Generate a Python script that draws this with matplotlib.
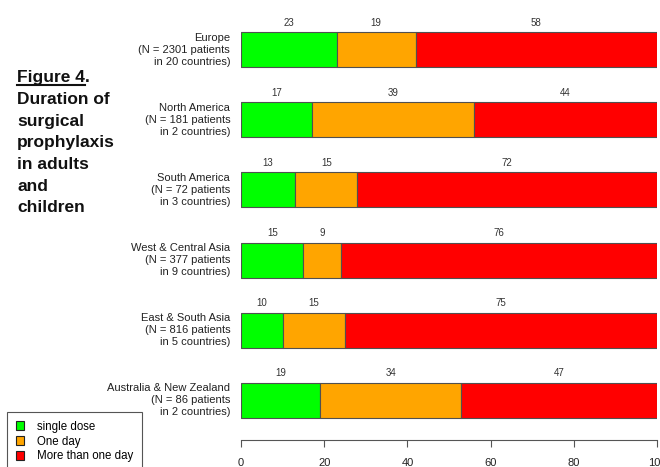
import numpy as np
import matplotlib
matplotlib.use("Agg")
import matplotlib.pyplot as plt
from matplotlib.patches import Patch
from matplotlib.lines import Line2D

plt.rcParams['font.family'] = ['Liberation Sans', 'DejaVu Sans']

# ===== DATA =====
regions = [
    "Europe\n(N = 2301 patients\nin 20 countries)",
    "North America\n(N = 181 patients\nin 2 countries)",
    "South America\n(N = 72 patients\nin 3 countries)",
    "West & Central Asia\n(N = 377 patients\nin 9 countries)",
    "East & South Asia\n(N = 816 patients\nin 5 countries)",
    "Australia & New Zealand\n(N = 86 patients\nin 2 countries)",
]
single_dose = [23, 17, 13, 15, 10, 19]
one_day = [19, 39, 15, 9, 15, 34]
more_than_one = [58, 44, 72, 76, 75, 47]
series_names = ["single dose", "One day", "More than one day"]
series_colors = ["#00FF00", "#FFA500", "#FF0000"]
xticks = [0, 20, 40, 60, 80, 100]

# ===== FIGURE =====
W, H = 660, 467
fig = plt.figure(figsize=(W / 100, H / 100), dpi=100)
ax = fig.add_axes([241 / W, (H - 440) / H, (657 - 241) / W, 430 / H])

n = len(regions)
ypos = np.arange(n)[::-1]  # Europe on top
edge = "#505050"

left = np.zeros(n)
for vals, col in zip([single_dose, one_day, more_than_one], series_colors):
    vals = np.array(vals, dtype=float)
    ax.barh(ypos, vals, left=left, height=0.5, color=col,
            edgecolor=edge, linewidth=0.8)
    for y, l, v in zip(ypos, left, vals):
        ax.text(l + v / 2, y + 0.39, f"{v:.0f}", ha='center', va='center',
                fontsize=7, color="#333333")
    left += vals

for y, lab in zip(ypos, regions):
    ax.text(-2.6, y, lab, ha='right', va='center', multialignment='right',
            fontsize=8, color="#222222", linespacing=1.2)

ax.set_xlim(0, 100)
ax.set_ylim(-0.571, 5.571)
for s in ['top', 'right', 'left']:
    ax.spines[s].set_visible(False)
ax.spines['bottom'].set_bounds(0, 100)
ax.spines['bottom'].set_color("#555555")
ax.set_yticks([])
ax.set_xticks(xticks)
ax.tick_params(axis='x', colors="#555555", labelcolor="#222222",
               length=5, labelsize=8, pad=8)

# ===== FIGURE CAPTION =====
cap_kw = dict(fontsize=12.5, fontweight='bold', color="#111111", va='baseline')
t = fig.text(17 / W, 1 - 82 / H, "Figure 4", **cap_kw)
fig.canvas.draw()
bb = t.get_window_extent()
fig.text(bb.x1 / W, 1 - 82 / H, ".", **cap_kw)
fig.add_artist(Line2D([bb.x0 / W, bb.x1 / W], [1 - 85 / H, 1 - 85 / H],
                      color="#111111", linewidth=1.5))
caption = ["Duration of", "surgical", "prophylaxis", "in adults", "and", "children"]
for i, line in enumerate(caption):
    fig.text(17 / W, 1 - (104 + 21.7 * i) / H, line, **cap_kw)

# ===== LEGEND =====
handles = [Patch(facecolor=c, edgecolor="#222222", linewidth=0.8) for c in series_colors]
leg = fig.legend(handles, series_names, loc='upper left',
                 bbox_to_anchor=(7 / W, 1 - 412 / H), borderaxespad=0,
                 fontsize=8.3, handlelength=0.75, handleheight=0.75,
                 handletextpad=1.1, labelspacing=0.25, borderpad=0.75,
                 fancybox=False, edgecolor="#555555", framealpha=1)
leg.get_frame().set_linewidth(0.8)

fig.savefig("out.png", dpi=100)
